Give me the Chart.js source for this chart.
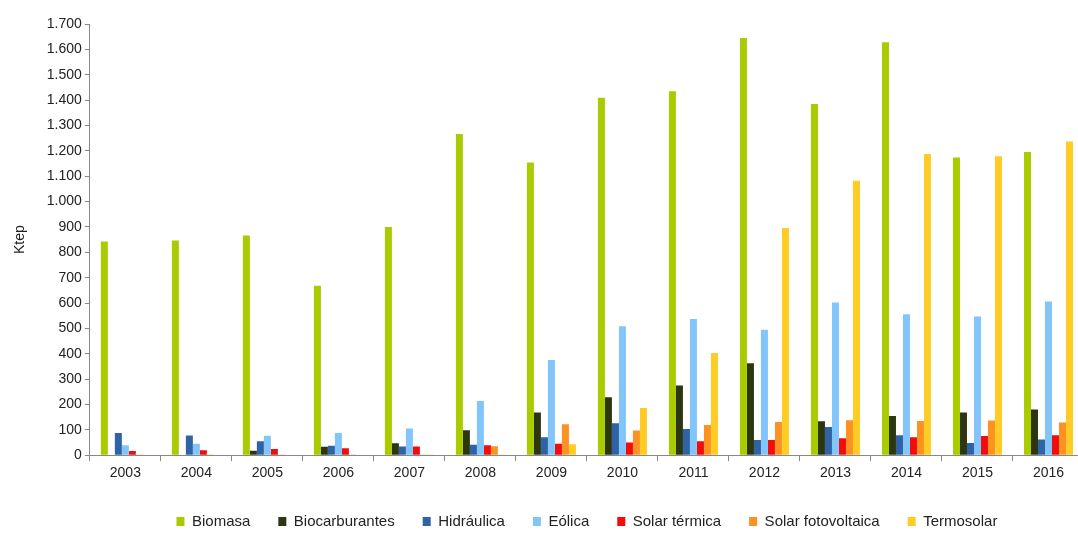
<!DOCTYPE html>
<html lang="es">
<head>
<meta charset="utf-8">
<title>Producción de energías renovables (Ktep)</title>
<script src="https://cdn.jsdelivr.net/npm/chart.js@4/dist/chart.umd.min.js"></script>
<style>
  html, body { margin: 0; padding: 0; background: #ffffff; overflow: hidden; }
  #wrap { position: relative; width: 1090px; height: 540px; }
</style>
</head>
<body>
<div id="wrap"><canvas id="chart"></canvas></div>
<script>
// Años
const years = ['2003','2004','2005','2006','2007','2008','2009','2010','2011','2012','2013','2014','2015','2016'];

// Producción por tecnología (Ktep)
const biomasa        = [843, 846, 866, 668, 900, 1266, 1154, 1409, 1435, 1645, 1385, 1628, 1174, 1195];
const biocarburantes = [0, 0, 18, 33, 47, 98, 168, 228, 275, 363, 134, 155, 168, 180];
const hidraulica     = [88, 78, 55, 37, 34, 41, 71, 126, 103, 60, 111, 79, 48, 62];
const eolica         = [39, 45, 77, 88, 105, 214, 375, 508, 537, 495, 602, 556, 547, 606];
const solarTermica   = [17, 20, 24, 27, 34, 39, 45, 50, 55, 60, 67, 71, 76, 79];
const fotovoltaica   = [1, 1, 1, 1, 3, 35, 122, 97, 119, 131, 138, 135, 137, 129];
const termosolar     = [0, 0, 0, 0, 1, 3, 43, 186, 403, 896, 1082, 1187, 1179, 1237];

// Eje vertical
const yMax = 1700;
const yStep = 100;

const fmt = v => String(v).replace(/\B(?=(\d{3})+(?!\d))/g, '.');

const series = [
  ['Biomasa', biomasa, '#a9cb00'],
  ['Biocarburantes', biocarburantes, '#2c3712'],
  ['Hidráulica', hidraulica, '#2f63a6'],
  ['Eólica', eolica, '#82c5fb'],
  ['Solar térmica', solarTermica, '#f20c0c'],
  ['Solar fotovoltaica', fotovoltaica, '#fb9222'],
  ['Termosolar', termosolar, '#ffcb25']
];

const font = "'Liberation Sans', Arial, sans-serif";

new Chart(document.getElementById('chart'), {
  type: 'bar',
  data: {
    labels: years,
    datasets: series.map(([label, data, color]) => ({
      label, data,
      backgroundColor: color,
      borderWidth: 0,
      categoryPercentage: 0.69,
      barPercentage: 1.0
    }))
  },
  options: {
    responsive: true,
    maintainAspectRatio: false,
    animation: false,
    layout: { padding: { left: 12, right: 6, top: 24, bottom: 1 } },
    plugins: {
      tooltip: { enabled: false },
      legend: {
        position: 'bottom',
        fullSize: false,
        labels: {
          color: '#222',
          font: { family: font, size: 15 },
          boxWidth: 8,
          boxHeight: 9,
          padding: 28
        }
      }
    },
    scales: {
      x: {
        offset: true,
        grid: { offset: true, drawOnChartArea: false, drawTicks: true, tickLength: 6, color: '#888' },
        border: { color: '#888' },
        ticks: { color: '#222', font: { family: font, size: 14 }, padding: 4 }
      },
      y: {
        min: 0,
        max: yMax,
        grid: { drawOnChartArea: false, drawTicks: true, tickLength: 5, color: '#888' },
        border: { color: '#888' },
        ticks: { stepSize: yStep, color: '#222', font: { family: font, size: 14 }, padding: 3,
                 callback: v => fmt(v) },
        title: { display: true, text: 'Ktep', color: '#222', font: { family: font, size: 14 }, padding: { top: 0, bottom: 15 } }
      }
    }
  }
});
</script>
</body>
</html>
